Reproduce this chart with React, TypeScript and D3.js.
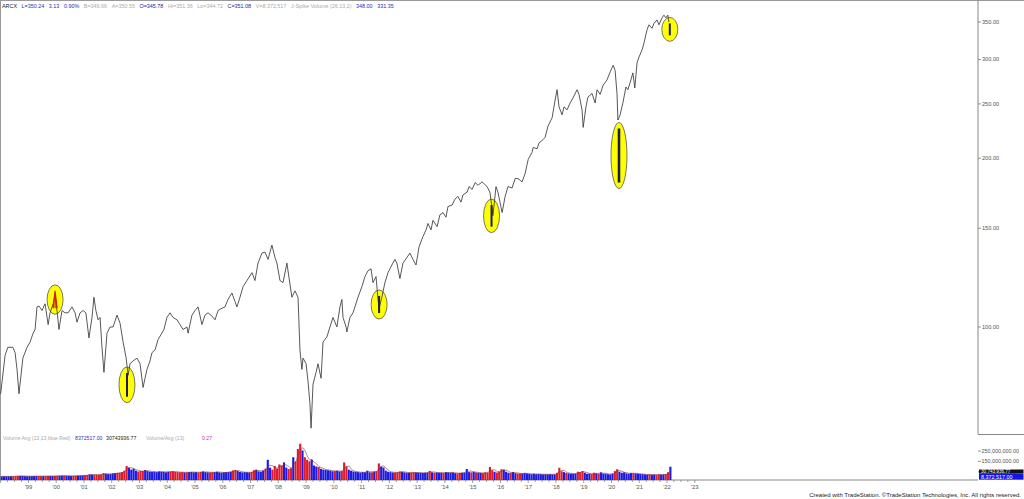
import React, { useEffect } from "react";
import * as d3 from "d3";

// ---- price (closes), decimal years ----
const priceDates = [
  1998.00,1998.16,1998.26,1998.44,1998.52,1998.59,1998.66,1998.80,1998.95,1999.06,1999.17,1999.24,1999.31,1999.38,1999.49,1999.60,1999.71,1999.78,1999.89,1999.96,
  2000.03,2000.10,2000.21,2000.32,2000.43,2000.57,2000.68,2000.75,2000.86,2000.97,2001.07,2001.18,2001.29,2001.36,2001.43,2001.51,2001.58,2001.65,2001.72,2001.83,2001.94,
  2002.05,2002.19,2002.30,2002.41,2002.52,2002.59,2002.66,2002.77,2002.91,2003.02,2003.13,2003.20,2003.27,2003.38,2003.45,2003.56,2003.67,2003.78,2003.88,2003.99,2004.10,
  2004.21,2004.35,2004.46,2004.57,2004.71,2004.75,2004.89,2005.00,2005.11,2005.25,2005.36,2005.47,2005.61,2005.72,2005.83,2005.97,2006.08,2006.19,2006.33,2006.44,2006.51,
  2006.62,2006.73,2006.87,2007.05,2007.16,2007.27,2007.41,2007.52,2007.63,2007.77,2007.88,2007.95,2008.06,2008.17,2008.31,2008.39,2008.49,2008.60,2008.71,2008.78,2008.85,
  2008.89,2009.00,2009.07,2009.14,2009.18,2009.25,2009.36,2009.43,2009.54,2009.61,2009.75,2009.86,2009.97,2010.11,2010.22,
  2010.29,2010.33,2010.44,2010.47,2010.58,2010.69,2010.76,2010.87,2011.01,2011.12,2011.23,2011.34,2011.41,2011.52,2011.59,2011.63,2011.73,2011.84,2011.95,2012.09,2012.20,
  2012.27,2012.38,2012.49,2012.63,2012.74,2012.85,2012.96,2013.07,2013.21,2013.32,2013.39,2013.50,2013.57,2013.72,2013.82,2013.93,2014.04,2014.11,2014.26,2014.36,2014.47,
  2014.58,2014.65,2014.80,2014.87,2014.98,2015.09,2015.19,2015.34,2015.52,2015.62,2015.70,2015.73,2015.84,2015.91,2016.06,2016.17,2016.27,2016.42,2016.53,2016.63,
  2016.78,2016.89,2017.00,2017.14,2017.18,2017.32,2017.39,2017.54,2017.61,2017.71,2017.86,2017.97,2018.04,2018.11,2018.22,2018.29,2018.40,2018.51,2018.61,2018.76,2018.83,
  2018.94,2018.98,2019.08,2019.15,2019.30,2019.41,2019.48,2019.59,2019.70,2019.84,2019.95,2020.06,2020.13,2020.20,2020.23,2020.31,2020.41,2020.52,2020.59,2020.70,2020.77,
  2020.84,2020.92,2020.99,2021.10,2021.17,2021.28,2021.35,2021.46,2021.53,2021.64,2021.71,2021.82,2021.89,2021.96,2022.03,2022.07,
];
const priceValues = [
  76,89,92,92,90,84,76,88,92,94,97.5,99,108.6,109,107,110,101,106,110,114,
  107,99,107,106,106,108.6,106,102,106,107,106,95.6,104,113,107,103,104,92,83,97.5,100,
  100,105,101.6,94,88,82,86,87,88,86,78,81,84,87,90,91,95,97,99,104,106,
  104,103,101,99,100,97.5,105,107,108.6,101,105,106,104.6,103,107,108,108.6,112,115,111,108.6,
  113,118,121,125,121,130,135.5,136,132,140,133,130,121,120,130,122,113,116,113,91,84,
  88,86,80,73,66,79,83,86,81,94,96,100,104,100,108.6,
  112,104,100,98,104,106,108.6,113,118,123,126,127,120,123,112,108,113,120,125,129,132,
  130,122,130,133,135.5,132,129,139,145,149,153,149,155,151,158.5,160,157,164,165,169,171,
  167,172,174,178,176,181,179,181.5,178,174,163,158,178,174,160,171,178,177,184,184,
  181.5,188,199,205,209,208,213,216,218,228,236,254,265,247,239,247,244,251,256,265,260,
  244,227,247,257,261,251,265,260,270,276,285,293,287,260,234,239,251,268,265,276,284,
  267,296,303,312,321,339,346,341,348,353,346,356,360,356,360,350,
];

// ---- J-Spike Volume marks (bar high / low) ----
const spikeDates = [1999.96, 2002.55, 2011.63, 2015.68, 2020.27, 2022.10];
const spikeHigh = [116, 82.8, 113.6, 165, 226, 348.0];
const spikeLow = [108, 75.1, 105.9, 151, 181, 331.35];

// ---- monthly volume (millions), starting Jan 1998 ----
const volumeStart = 1998;
const volumeMillions = [
  6,5,5,6,5,6,7,9,10,9,7,6,
  7,7,8,8,8,7,8,8,9,9,8,9,
  10,11,12,12,10,10,9,10,11,12,12,14,
  16,18,24,22,20,22,20,24,36,30,26,28,
  34,36,38,40,46,60,105,90,70,80,60,52,
  58,56,66,56,50,48,50,46,52,50,48,44,
  50,52,54,48,46,44,46,42,44,46,48,44,
  46,42,48,52,46,44,42,44,46,50,44,40,
  44,46,46,50,62,66,56,48,44,46,44,42,
  48,64,70,54,50,62,80,165,90,70,105,80,
  120,110,140,90,76,84,190,150,270,320,255,190,
  165,150,168,110,100,95,78,70,68,64,60,54,
  56,60,52,56,140,100,70,60,52,48,46,42,
  46,44,60,44,44,52,56,130,100,90,60,50,
  46,42,40,44,52,50,44,40,40,42,44,42,
  40,40,38,40,42,58,44,40,42,40,40,38,
  46,42,40,42,36,34,38,40,42,76,46,44,
  50,42,40,38,36,44,40,96,64,50,42,52,
  74,70,50,40,38,48,36,32,34,32,38,32,
  28,26,30,26,28,26,24,26,24,26,24,24,
  40,88,54,46,38,34,30,30,32,50,46,56,
  40,30,32,28,40,34,30,44,32,30,26,24,
  32,56,74,50,40,44,34,30,38,36,32,30,
  28,26,24,22,24,20,22,20,24,22,24,26,
  45,98,
];

// ---- axis ticks / labels ----
const priceTicks = [100, 150, 200, 250, 300, 350];
const volumeTicks = [250e6, 150e6, 50e6];
const yearTicks = d3.range(1999, 2024);

const headerTexts = ["ARCX", "L=350.24", "3.13", "0.90%", "B=349.66", "A=350.55", "O=345.78", "Hi=351.36", "Lo=344.72", "C=351.08", "V=8,372,517", "J-Spike Volume (26,13,2)", "348.00", "331.35"];
const headerColors = ["#222", "#2a2ab8", "#2a2ab8", "#2a2ab8", "#aaa", "#aaa", "#22229a", "#aaa", "#aaa", "#22229a", "#aaa", "#aaa", "#2a2ab8", "#2a2ab8"];

const volTexts = ["Volume Avg (13,13,blue,Red)", "8372517.00", "30743936.77", "Volume/Avg (13)", "0.27"];
const volTextX = [3, 75, 106, 146, 202];
const volTextColors = ["#aaa", "#3030c0", "#222", "#aaa", "#c030c0"];

const FONT = "'Liberation Sans', Arial, sans-serif";

export default function App() {
  useEffect(() => {
    document.body.style.margin = "0";
  }, []);

  const x = d3.scaleLinear().domain([1998, 2033.2]).range([0.65, 978]);
  const y = d3.scaleLog().domain([100, 350]).range([327, 22]);
  const yVol = d3.scaleLinear().domain([-30e6, 250e6]).range([480, 451]);

  const pts: [number, number][] = priceDates.map((t, i) => [t, priceValues[i]]);
  const linePath = d3.line<[number, number]>().x((d) => x(d[0])).y((d) => y(d[1]))(pts) || "";

  const interp = d3.scaleLinear<number>().domain(priceDates).range(priceValues).clamp(true);
  const vols = volumeMillions.map((m, i) => {
    const t = volumeStart + i / 12;
    return { t, v: m * 1e6, up: interp(t + 1 / 12) >= interp(t) };
  });
  const ma = vols.map((d, i) => ({
    t: d.t + 1 / 24,
    v: d3.mean(vols.slice(Math.max(0, i - 2), i + 1), (e) => e.v) as number,
  }));
  const maPath = d3.line<{ t: number; v: number }>().x((d) => x(d.t)).y((d) => yVol(d.v)).curve(d3.curveMonotoneX)(ma) || "";

  const quarterTicks = d3.range(1998, 2023.01, 0.25);
  const fmtPrice = d3.format(".2f");
  const fmtVol = d3.format(",.2f");

  return (
    <svg width={1024} height={499} style={{ display: "block", background: "#fff" }} fontFamily={FONT}>
      <rect x={0} y={0} width={1024} height={499} fill="#fff" />

      {/* frame */}
      <line x1={0} x2={1024} y1={0.5} y2={0.5} stroke="#999" strokeWidth={1} />
      <line x1={0.5} x2={0.5} y1={0} y2={480} stroke="#999" strokeWidth={1} />
      <line x1={978} x2={978} y1={0} y2={434} stroke="#888" strokeWidth={1} />
      <line x1={978} x2={1024} y1={434.5} y2={434.5} stroke="#888" strokeWidth={1} />
      <line x1={0} x2={978} y1={480} y2={480} stroke="#888" strokeWidth={1} />

      {/* header */}
      <text x={2} y={7.5} fontSize={5.4}>
        {headerTexts.map((t, i) => (
          <tspan key={"h" + i} dx={i === 0 ? 0 : 4.6} fill={headerColors[i]}>{t}</tspan>
        ))}
      </text>

      {/* price axis */}
      {priceTicks.map((p) => (
        <g key={"pt" + p}>
          <line x1={978} x2={981} y1={y(p)} y2={y(p)} stroke="#777" strokeWidth={0.8} />
          <text x={982} y={y(p)} dy="0.35em" fontSize={5.6} fill="#555">{fmtPrice(p)}</text>
        </g>
      ))}

      {/* spike ellipses */}
      {spikeDates.map((t, i) => {
        const y1 = y(spikeHigh[i]);
        const y2 = y(spikeLow[i]);
        return (
          <ellipse key={"e" + i} cx={x(t)} cy={(y1 + y2) / 2} rx={8} ry={(y2 - y1) / 2 + 6}
            fill="#ffff00" stroke="#555" strokeWidth={0.8} />
        );
      })}

      {/* price line */}
      <path d={linePath} fill="none" stroke="#3a3a3a" strokeWidth={0.85} strokeLinejoin="round" />

      {/* spike bars */}
      {spikeDates.map((t, i) => {
        const y1 = y(spikeHigh[i]);
        const y2 = y(spikeLow[i]);
        const cx = x(t);
        if (i === 0) {
          return (
            <g key={"s" + i}>
              <path d={`M${cx - 2},${y2} L${cx},${y1} L${cx + 2},${y2}`} fill="none" stroke="#d41c1c" strokeWidth={1.2} />
              <line x1={cx} x2={cx} y1={y1 + 2} y2={y2} stroke="#d41c1c" strokeWidth={1.2} />
            </g>
          );
        }
        return (
          <line key={"s" + i} x1={cx} x2={cx} y1={y1} y2={y2} stroke="#1c1c5c" strokeWidth={i === 4 ? 2.6 : 2} />
        );
      })}

      {/* volume label line */}
      {volTexts.map((t, i) => (
        <text key={"v" + i} x={volTextX[i]} y={440} fontSize={5.2} fill={volTextColors[i]}>{t}</text>
      ))}

      {/* volume bars */}
      {vols.map((d, i) => {
        const x0 = x(d.t);
        const x1 = x(d.t + 1 / 12);
        return (
          <rect key={"vb" + i} x={x0} y={yVol(d.v)} width={Math.max(0.8, x1 - x0 - 0.2)} height={480 - yVol(d.v)}
            fill={d.up ? "#1a1ae6" : "#e01a2a"} />
        );
      })}
      <path d={maPath} fill="none" stroke="#7a3434" strokeWidth={0.7} opacity={0.85} />

      {/* volume axis */}
      {volumeTicks.map((v) => (
        <g key={"vt" + v}>
          <line x1={978} x2={981} y1={yVol(v)} y2={yVol(v)} stroke="#777" strokeWidth={0.8} />
          <text x={981.5} y={yVol(v)} dy="0.35em" fontSize={5.4} fill="#555">{fmtVol(v)}</text>
        </g>
      ))}
      <rect x={979} y={469.5} width={44.5} height={4} fill="#111" />
      <text x={981} y={473.2} fontSize={4.6} fill="#fff">30,743,936.77</text>
      <rect x={979} y={473.5} width={44.5} height={6.2} fill="#1414e6" />
      <text x={981} y={478.6} fontSize={5.4} fill="#fff">8,372,517.00</text>

      {/* time axis */}
      {quarterTicks.map((t) => {
        const isYear = Math.abs(t - Math.round(t)) < 1e-6;
        return <line key={"q" + t} x1={x(t)} x2={x(t)} y1={480} y2={isYear ? 483 : 482} stroke="#777" strokeWidth={0.7} />;
      })}
      {yearTicks.map((yr) => (
        <text key={"yl" + yr} x={x(yr)} y={488.5} textAnchor="middle" fontSize={5.8} fill="#555">
          {"'" + String(yr).slice(2)}
        </text>
      ))}

      {/* footer */}
      <text x={1021} y={497} textAnchor="end" fontSize={6} fill="#222">
        Created with TradeStation. ©TradeStation Technologies, Inc. All rights reserved.
      </text>
    </svg>
  );
}
